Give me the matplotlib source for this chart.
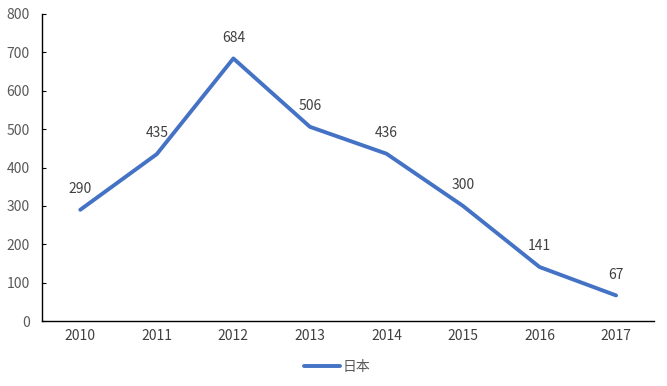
import matplotlib
matplotlib.use("Agg")
import matplotlib.pyplot as plt

plt.rcParams['font.family'] = ['Noto Sans CJK SC', 'DejaVu Sans']

years = ['2010', '2011', '2012', '2013', '2014', '2015', '2016', '2017']
values = [290, 435, 684, 506, 436, 300, 141, 67]
series_name = '日本'
yticks = [0, 100, 200, 300, 400, 500, 600, 700, 800]

fig = plt.figure(figsize=(6.67, 3.86), dpi=100)
ax = fig.add_axes([0.063, 0.168, 0.918, 0.796])
x = list(range(len(years)))
line, = ax.plot(x, values, color='#4472C4', linewidth=2.8, solid_capstyle='round', label=series_name)
for xi, v in zip(x, values):
    ax.annotate(str(v), (xi, v), xytext=(0, 10), textcoords='offset points',
                ha='center', va='bottom', fontsize=10, color='#404040')

ax.set_xlim(-0.5, len(years) - 0.5)
ax.set_ylim(0, 800)
ax.set_yticks(yticks)
ax.set_xticks(x)
ax.set_xticklabels(years)
for s in ['top', 'right']:
    ax.spines[s].set_visible(False)
for s in ['left', 'bottom']:
    ax.spines[s].set_color('black')
    ax.spines[s].set_linewidth(1.0)
ax.tick_params(axis='y', direction='in', length=3, colors='black', labelcolor='#595959', labelsize=10, pad=9)
ax.tick_params(axis='x', length=0, labelcolor='#404040', labelsize=10, pad=6)

fig.legend(handles=[line], loc='center', bbox_to_anchor=(0.505, 0.05), frameon=False,
           fontsize=10, handlelength=2.6, handletextpad=0.2, labelcolor='#595959')
fig.savefig('out.png', dpi=100)
